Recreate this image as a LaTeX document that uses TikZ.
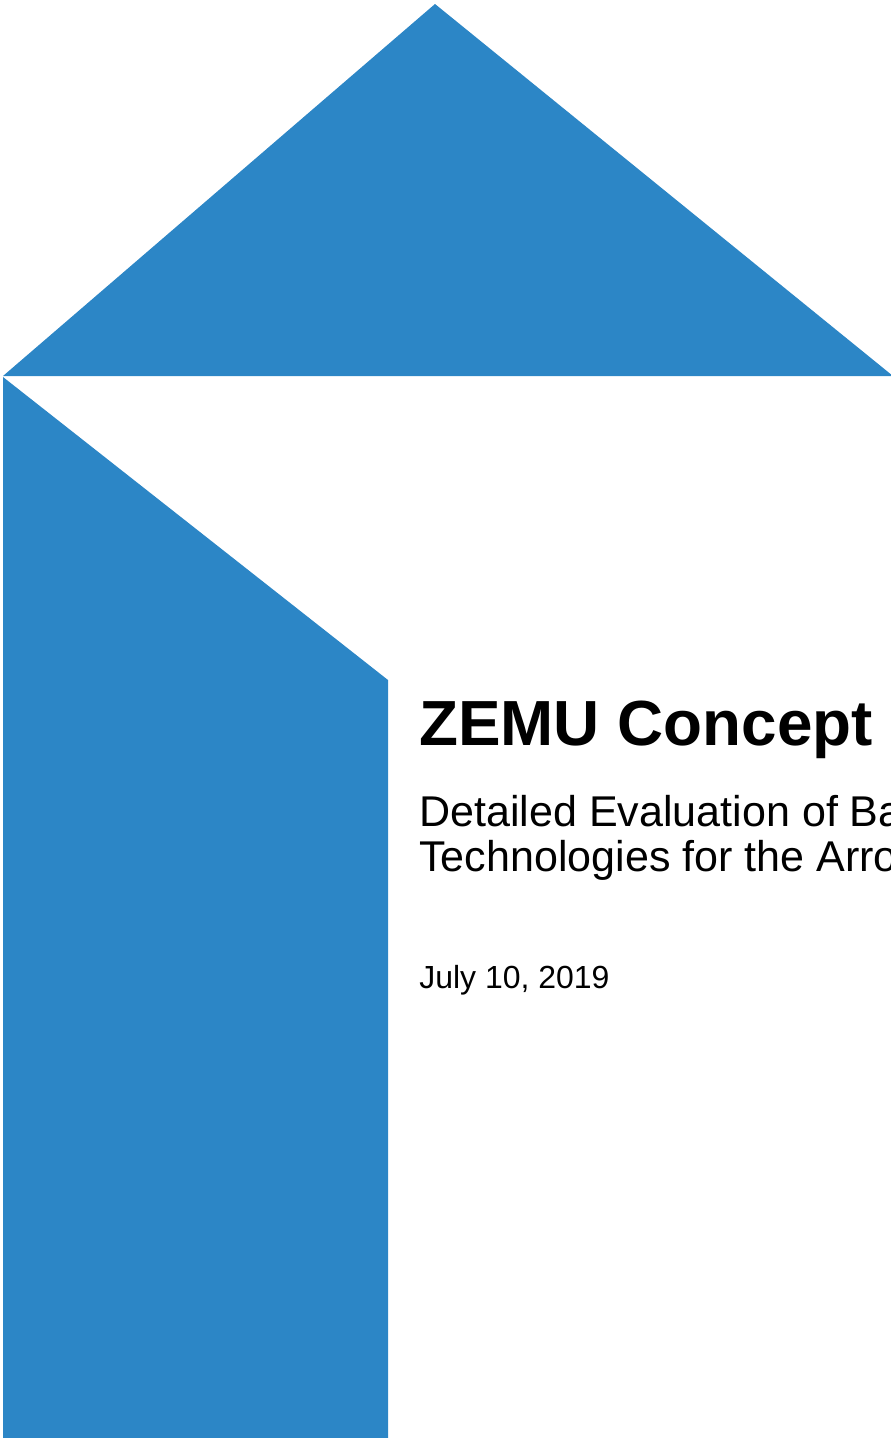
\documentclass[tikz,border=0pt]{standalone}
\usepackage{fontspec}
\setmainfont{Liberation Sans}
\usetikzlibrary{positioning}
\definecolor{coverblue}{RGB}{44,134,198}
\tikzset{
  coverpart/.style={fill=coverblue,draw=none},
  covertext/.style={anchor=base west,inner sep=0pt,text=black}
}

\begin{document}
\begin{tikzpicture}[x=0.02cm,y=-0.02cm]
      \useasboundingbox (0,0) rectangle (891,1438);
      \clip (0,0) rectangle (891,1438);
      % roof and wall
      \fill[coverpart](3,376)--(435,4)--(893,376)--cycle;
      \fill[coverpart](3,377)--(388,680)--(388,1440)--(3,1440)--cycle;
      % title block
      \node[covertext,font=\fontsize{36.3}{40}\selectfont\bfseries](title)at(419,745){ZEMU Concept};
      \node[covertext,font=\fontsize{24.5}{27}\selectfont](subone)at(419,826){Detailed Evaluation of Ba};
      \node[covertext,font=\fontsize{24.5}{27}\selectfont](subtwo)at(419,871){Technologies for the Arro};
      \node[covertext,font=\fontsize{18.2}{21}\selectfont](date)at(419,988){July 10, 2019};
    \end{tikzpicture}
\end{document}
